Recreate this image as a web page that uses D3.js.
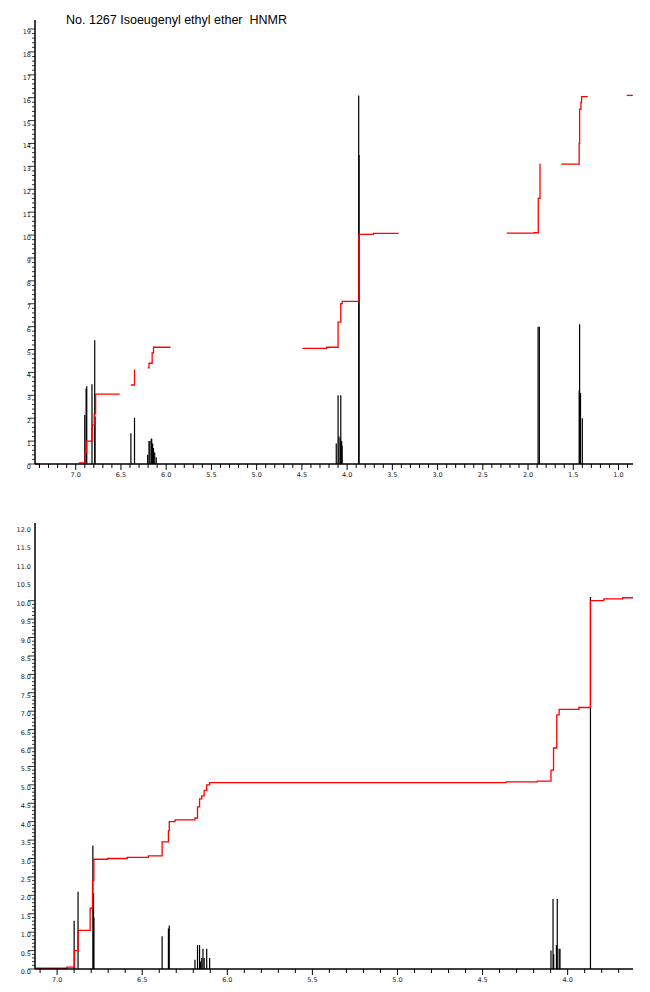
<!DOCTYPE html>
<html><head><meta charset="utf-8">
<script src="https://cdn.jsdelivr.net/npm/d3@7"></script>
<style>body{margin:0;background:#fff}</style></head>
<body><svg id="c" width="650" height="992"></svg>
<script>
const title = "No. 1267 Isoeugenyl ethyl ether  HNMR";
// top panel peaks [ppm, height]
const peaksTop = [[6.90,2.14],[6.885,3.3],[6.878,3.4],[6.82,3.48],[6.79,5.4],[6.787,2.07],[6.39,1.34],[6.35,2.02],
 [6.205,0.4],[6.19,1.0],[6.18,1.0],[6.165,1.1],[6.16,1.1],[6.15,0.9],[6.14,0.7],[6.127,0.5],[6.11,0.3],
 [4.12,0.9],[4.10,3.0],[4.09,1.2],[4.075,1.1],[4.07,3.0],[4.06,1.0],[4.055,0.8],
 [3.872,16.1],[3.868,13.5],[1.889,6.0],[1.875,6.0],[1.435,3.2],[1.43,6.1],[1.42,3.1],[1.40,2.0]];
const integTop = [
 [[7.449,0],[7.393,0]],
 [[6.965,0.05],[6.896,0.5],[6.88,1.0],[6.818,1.7],[6.795,2.2],[6.78,3.05],[6.514,3.05]],
 [[6.39,3.45],[6.35,4.1],[6.344,4.1]],
 [[6.205,4.2],[6.19,4.4],[6.155,4.85],[6.14,5.1],[5.952,5.1]],
 [[4.493,5.05],[4.225,5.1],[4.11,5.1],[4.10,6.2],[4.07,7.0],[4.055,7.1],[3.87,10.03],[3.71,10.07],[3.43,10.07]],
 [[2.236,10.08],[1.932,10.1],[1.887,11.6],[1.868,13.1],[1.866,13.1]],
 [[1.633,13.1],[1.435,14.0],[1.43,15.5],[1.415,15.8],[1.408,16.05],[1.34,16.05]],
 [[0.91,16.1],[0.842,16.1]]];
const xTicksTop = ["7.0","6.5","6.0","5.5","5.0","4.5","4.0","3.5","3.0","2.5","2.0","1.5","1.0"];
const yTicksTop = d3.range(0,20);
// bottom panel (expansion)
const peaksBot = [[6.90,1.31],[6.877,2.1],[6.79,3.35],[6.786,2.05],[6.784,1.4],[6.383,0.89],[6.346,1.1],[6.341,1.18],
 [6.19,0.25],[6.175,0.65],[6.163,0.65],[6.158,0.2],[6.15,0.3],[6.143,0.55],[6.136,0.3],[6.121,0.55],[6.104,0.3],
 [4.098,0.5],[4.086,1.9],[4.082,0.4],[4.066,0.65],[4.061,1.9],[4.05,0.55],[4.045,0.55],[3.866,10.1]];
const integBot = [[[7.127,0.02],[6.943,0.05],[6.898,0.5],[6.877,1.05],[6.814,1.05],[6.806,1.65],[6.792,2.4],[6.784,2.98],
 [6.703,3.0],[6.588,3.03],[6.464,3.07],[6.383,3.45],[6.346,3.75],[6.341,4.0],[6.307,4.05],[6.19,4.1],[6.175,4.4],
 [6.163,4.62],[6.15,4.7],[6.136,4.85],[6.121,5.0],[6.104,5.06],[4.362,5.08],[4.178,5.1],[4.098,5.4],[4.083,6.0],
 [4.064,6.9],[4.05,7.05],[3.934,7.1],[3.866,10.0],[3.787,10.05],[3.677,10.08],[3.616,10.08]]];
const xTicksBot = ["7.0","6.5","6.0","5.5","5.0","4.5","4.0"];
const yTicksBot = d3.range(0,12.01,0.5);

const svg = d3.select("#c");
svg.append("text").attr("x",66).attr("y",24).attr("font-family","Liberation Sans, Arial").attr("font-size",12.5)
  .style("white-space","pre").text(title);

function panel(o){
  const x = d3.scaleLinear().domain(o.xd).range([35,o.xr]);
  const y = d3.scaleLinear().domain([0,o.ymax]).range([o.y0,o.yTop]);
  const g = svg.append("g");
  g.selectAll(".p").data(o.peaks).join("line")
   .attr("x1",d=>x(d[0])).attr("x2",d=>x(d[0])).attr("y1",y(0)).attr("y2",d=>y(d[1]))
   .attr("stroke","#000").attr("stroke-width",1.2);
  const line = d3.line().x(d=>x(d[0])).y(d=>y(d[1])).curve(d3.curveStepAfter);
  g.selectAll(".i").data(o.integ).join("path").attr("d",line).attr("fill","none").attr("stroke","#f00").attr("stroke-width",1.3);
  g.append("line").attr("x1",35).attr("x2",o.xr).attr("y1",o.y0).attr("y2",o.y0).attr("stroke","#000").attr("stroke-width",1.5);
  g.append("line").attr("x1",35).attr("x2",35).attr("y1",o.y0).attr("y2",o.axTop).attr("stroke","#000").attr("stroke-width",1.5);
  const lo = Math.min(...o.xd), hi = Math.max(...o.xd);
  const minor = d3.range(Math.ceil(lo*10),Math.floor(hi*10)+1).map(v=>v/10);
  g.selectAll(".xm").data(minor).join("line").attr("x1",d=>x(d)).attr("x2",d=>x(d))
   .attr("y1",o.y0).attr("y2",d=>o.y0+(Math.abs(d*2-Math.round(d*2))<1e-6?6:4)).attr("stroke","#000");
  g.selectAll(".xl").data(o.xt).join("text").attr("x",d=>x(+d)).attr("y",o.y0+13).attr("text-anchor","middle")
   .attr("font-family","DejaVu Sans").attr("font-size",6.5).attr("fill","#222").text(d=>d);
  const ym = d3.range(0,o.ymax+1e-6,o.ymin);
  g.selectAll(".ym").data(ym).join("line").attr("x1",d=>35-(Math.abs(d/o.ystep-Math.round(d/o.ystep))<1e-6?7:3)).attr("x2",35)
   .attr("y1",d=>y(d)).attr("y2",d=>y(d)).attr("stroke","#000").attr("stroke-width",0.8);
  g.selectAll(".yl").data(o.yt).join("text").attr("x",31).attr("y",d=>y(d)+5).attr("text-anchor","end")
   .attr("font-family","DejaVu Sans").attr("font-size",6.5).attr("fill","#222").text(d=>o.fmt(d));
}
panel({xd:[7.45,0.84],xr:633,y0:464,yTop:29,axTop:20,ymax:19,ymin:0.2,ystep:1,peaks:peaksTop,integ:integTop,xt:xTicksTop,yt:yTicksTop,fmt:d=>d});
panel({xd:[7.13,3.616],xr:633,y0:969,yTop:600.7,axTop:523,ymax:10,ymin:0.1,ystep:0.5,peaks:peaksBot,integ:integBot,xt:xTicksBot,yt:yTicksBot,fmt:d=>d.toFixed(1)});
</script></body></html>
